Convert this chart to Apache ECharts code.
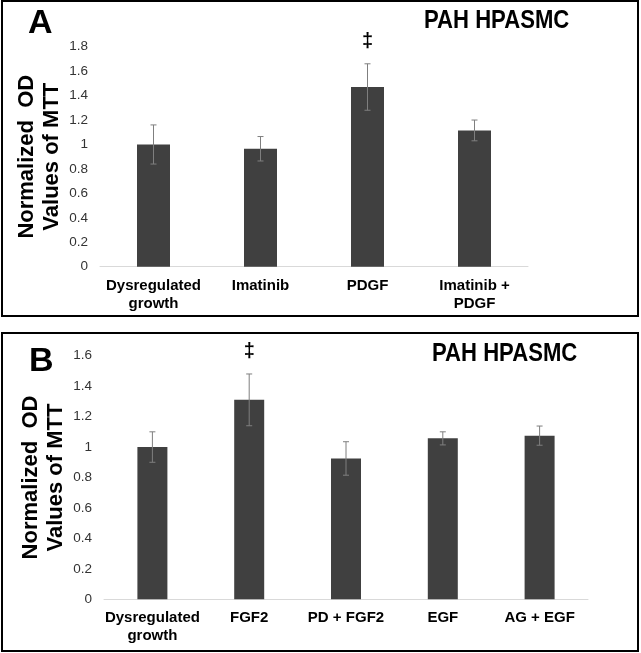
<!DOCTYPE html>
<html>
<head>
<meta charset="utf-8">
<script src="https://cdn.jsdelivr.net/npm/echarts@6/dist/echarts.min.js"></script>
<style>html,body{margin:0;padding:0;background:#fff}#c{width:641px;height:653px}</style>
</head>
<body>
<div id="c"></div>
<script>
// Panel A data
const catsA = ['Dysregulated\ngrowth', 'Imatinib', 'PDGF', 'Imatinib +\nPDGF'];
const valsA = [1.00, 0.965, 1.47, 1.115];
const errA = [0.16, 0.10, 0.19, 0.085];
const sigA = ['', '', '‡', ''];
const ticksA = { min: 0, max: 1.8, interval: 0.2 };

// Panel B data
const catsB = ['Dysregulated\ngrowth', 'FGF2', 'PD + FGF2', 'EGF', 'AG + EGF'];
const valsB = [1.00, 1.31, 0.925, 1.057, 1.075];
const errB = [0.10, 0.17, 0.11, 0.043, 0.063];
const sigB = ['', '‡', '', '', ''];
const ticksB = { min: 0, max: 1.6, interval: 0.2 };

const panelTitle = 'PAH HPASMC';
const yName = 'Normalized  OD\nValues of MTT';

const SANS = "'Liberation Sans',Arial,sans-serif";
const BAR = '#404040';

function errSeries(gridIdx, vals, errs, sigs) {
  return {
    type: 'custom', xAxisIndex: gridIdx, yAxisIndex: gridIdx, z: 5,
    data: vals.map((v, i) => [i, v, errs[i]]),
    renderItem: function (params, api) {
      const i = api.value(0), v = api.value(1), e = api.value(2);
      const t = api.coord([i, v + e]);
      const b = api.coord([i, v - e]);
      const st = { stroke: '#7f7f7f', lineWidth: 1 };
      const ch = [
        { type: 'line', shape: { x1: t[0], y1: t[1], x2: b[0], y2: b[1] }, style: st },
        { type: 'line', shape: { x1: t[0] - 3, y1: t[1], x2: t[0] + 3, y2: t[1] }, style: st },
        { type: 'line', shape: { x1: b[0] - 3, y1: b[1], x2: b[0] + 3, y2: b[1] }, style: st }
      ];
      const s = sigs[params.dataIndex];
      if (s) {
        ch.push({ type: 'text', style: { text: s, x: t[0], y: t[1] - 12, align: 'center', verticalAlign: 'bottom',
          font: 'bold 20px ' + SANS, fill: '#000' } });
      }
      return { type: 'group', children: ch };
    }
  };
}

function xAx(gridIdx, cats) {
  return {
    type: 'category', gridIndex: gridIdx, data: cats,
    axisLine: { lineStyle: { color: '#d9d9d9', width: 1 } },
    axisTick: { show: false },
    axisLabel: { interval: 0, margin: 10, color: '#000', fontWeight: 'bold', fontSize: 15, lineHeight: 18, fontFamily: SANS }
  };
}
function yAx(gridIdx, t) {
  return {
    type: 'value', gridIndex: gridIdx, min: t.min, max: t.max, interval: t.interval,
    splitLine: { show: false }, axisLine: { show: false }, axisTick: { show: false },
    axisLabel: { margin: 12, color: '#333', fontSize: 13.5, fontFamily: SANS },
    name: yName, nameLocation: 'middle', nameRotate: 90, nameGap: 36, nameMoveOverlap: false,
    nameTextStyle: { color: '#000', fontWeight: 'bold', fontSize: 22, lineHeight: 25, fontFamily: SANS }
  };
}

const chart = echarts.init(document.getElementById('c'), null, { renderer: 'canvas' });
chart.setOption({
  animation: false,
  backgroundColor: '#fff',
  title: [
    { text: 'A', left: 23, top: 2, textStyle: { fontSize: 34, fontWeight: 'bold', color: '#000', fontFamily: SANS } },
    { text: 'B', left: 24, top: 340, textStyle: { fontSize: 34, fontWeight: 'bold', color: '#000', fontFamily: SANS } }
  ],
  graphic: [
    { type: 'rect', shape: { x: 2, y: 1, width: 636, height: 315 }, style: { fill: 'none', stroke: '#000', lineWidth: 2 }, silent: true },
    { type: 'rect', shape: { x: 2, y: 333, width: 636, height: 318 }, style: { fill: 'none', stroke: '#000', lineWidth: 2 }, silent: true },
    { type: 'text', x: 424, y: 8, scaleX: 0.85, style: { text: panelTitle, font: 'bold 26px ' + SANS, fill: '#000' }, silent: true },
    { type: 'text', x: 432, y: 341, scaleX: 0.85, style: { text: panelTitle, font: 'bold 26px ' + SANS, fill: '#000' }, silent: true }
  ],
  grid: [
    { left: 100, right: 113, top: 46.7, bottom: 386.3 },
    { left: 104, right: 53, top: 355.7, bottom: 53.7 }
  ],
  xAxis: [xAx(0, catsA), xAx(1, catsB)],
  yAxis: [yAx(0, ticksA), yAx(1, ticksB)],
  series: [
    { type: 'bar', xAxisIndex: 0, yAxisIndex: 0, data: valsA, barWidth: 33, itemStyle: { color: BAR } },
    errSeries(0, valsA, errA, sigA),
    { type: 'bar', xAxisIndex: 1, yAxisIndex: 1, data: valsB, barWidth: 30, itemStyle: { color: BAR } },
    errSeries(1, valsB, errB, sigB)
  ]
});
</script>
</body>
</html>
